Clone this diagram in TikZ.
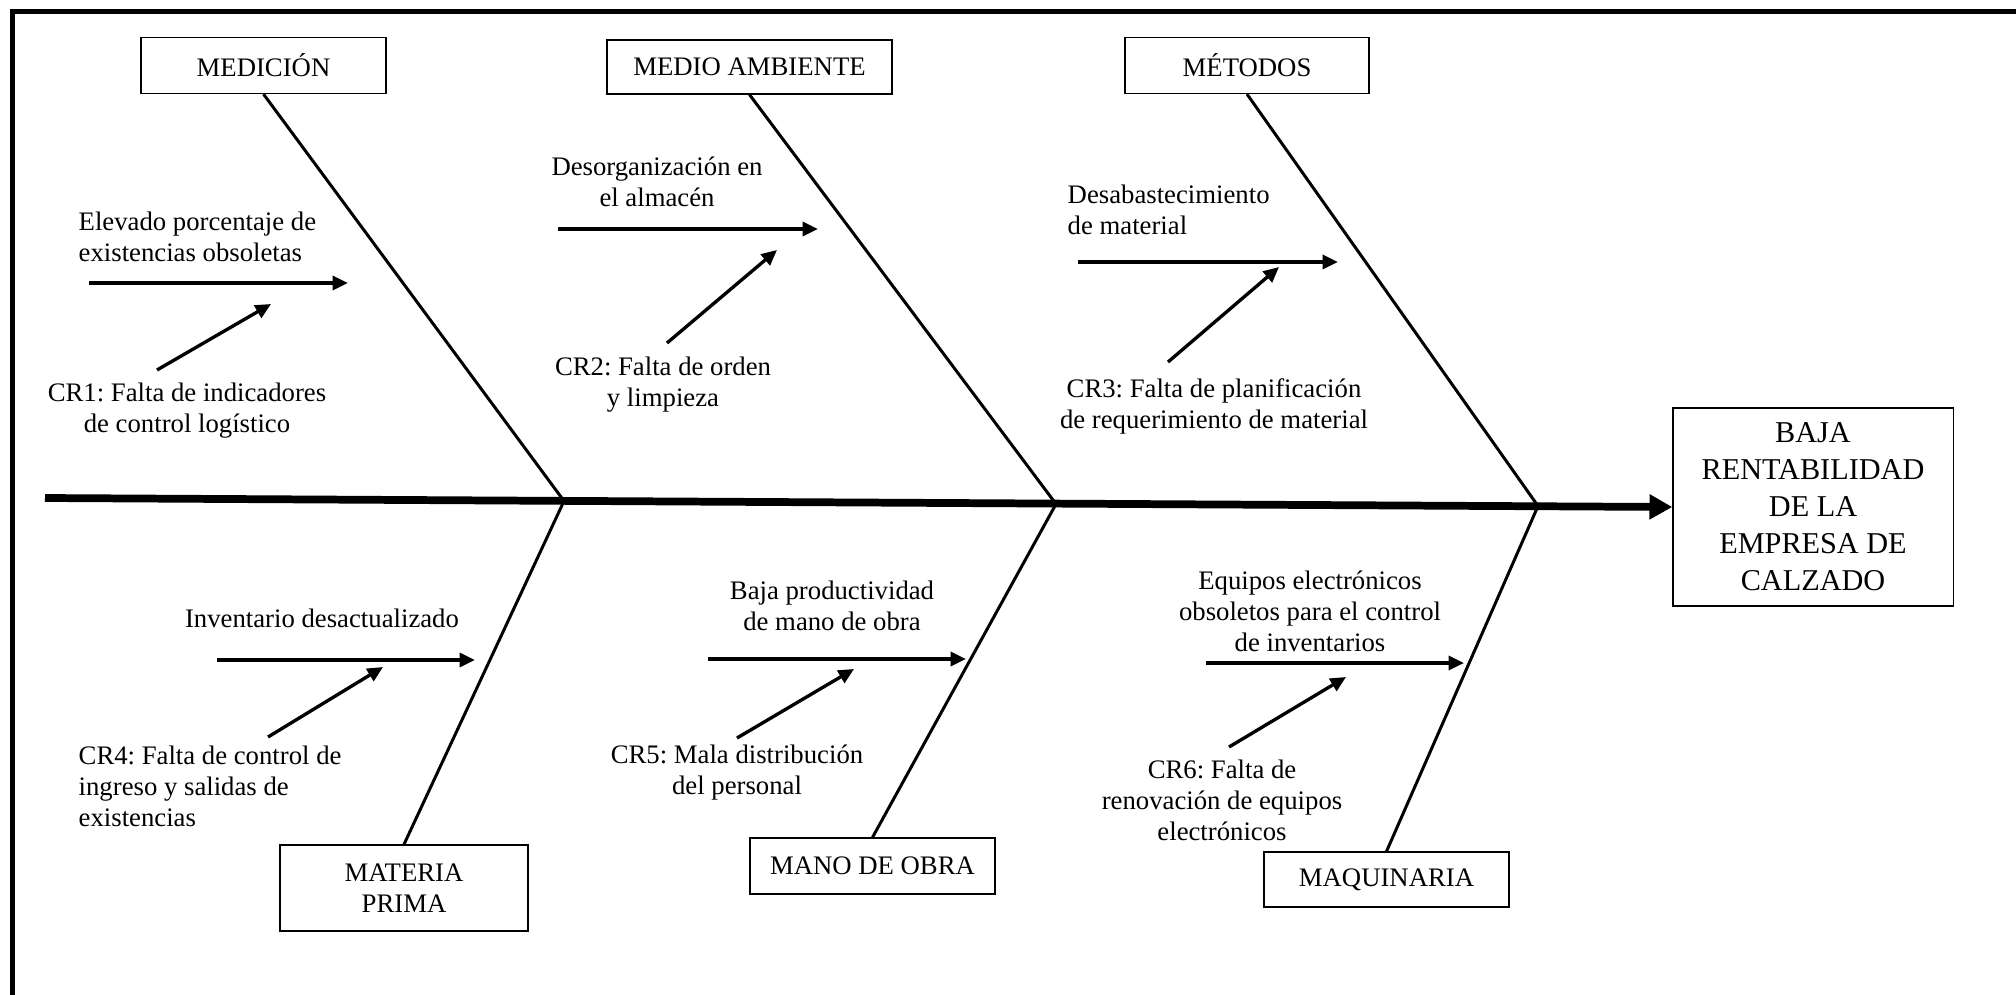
\documentclass[tikz,border=0pt]{standalone}
\usepackage{fontspec}
\setmainfont{Liberation Serif}
\usetikzlibrary{arrows.meta}
\frenchspacing

\begin{document}
\begin{tikzpicture}[x=0.01cm, y=-0.01cm, font=\fontsize{7.6}{8.8}\selectfont, % 1 unit = 1 px of the sheet
    caja/.style={draw, line width=0.35pt, inner sep=0pt, align=center, minimum width=2.45cm, minimum height=0.56cm},
    causa/.style={inner sep=0pt, align=center},
    flecha/.style={line width=0.95pt, -{Triangle[length=4.4pt, width=4pt]}},
    hueso/.style={line width=0.85pt}]
    \useasboundingbox (0,0) rectangle (2016,994);
    % Draw frame (cut at right and bottom)
    \draw[line width=1.42pt] (2040,11.5) -- (12.5,11.5) -- (12.5,1020);

    % Draw effect and spine
    \node[caja, minimum width=2.8cm, minimum height=1.98cm, font=\fontsize{8.6}{10.5}\selectfont] (efecto) at (1813,507) {BAJA\\RENTABILIDAD\\DE LA\\EMPRESA DE\\CALZADO};
    \coordinate (cola) at (45,498);
    \draw[line width=2.2pt, -{Triangle[length=6.5pt, width=6.8pt]}] (cola) -- (efecto.west);
    \coordinate (j1) at (564,501); % Joints on the spine
    \coordinate (j2) at (1056,504);
    \coordinate (j3) at (1538,506);

    % Draw category boxes
    \node[caja] (medicion) at (263.5,65.5) {MEDICIÓN};
    \node[caja, minimum width=2.85cm, minimum height=0.54cm] (ambiente) at (749.5,67) {MEDIO AMBIENTE};
    \node[caja, minimum width=2.44cm] (metodos) at (1247,65.5) {MÉTODOS};
    \node[caja, minimum width=2.48cm, minimum height=0.86cm] (materia) at (404,888) {MATERIA\\PRIMA};
    \node[caja] (manoobra) at (872.5,866) {MANO DE OBRA};
    \node[caja, minimum height=0.55cm] (maquinaria) at (1386.5,879.5) {MAQUINARIA};

    % Draw bones
    \draw[hueso] (medicion.south) -- (j1);
    \draw[hueso] (ambiente.south) -- (j2);
    \draw[hueso] (metodos.south) -- (j3);
    \draw[hueso] (materia.north) -- (j1);
    \draw[hueso] (manoobra.north) -- (j2);
    \draw[hueso] (maquinaria.north) -- (j3);

    % Medicion causes
    \node[causa, align=left, anchor=west] (elevado) at (78,237) {Elevado porcentaje de\\existencias obsoletas};
    \coordinate (a1i) at (89,283); \coordinate (a1f) at (348,283);
    \draw[flecha] (a1i) -- (a1f);
    \node[causa] (cr1) at (187,411) {CR1: Falta de indicadores\\de control logístico};
    \coordinate (c1i) at (157,370); \coordinate (c1f) at (271,304);
    \draw[flecha] (c1i) -- (c1f);

    % Medio ambiente causes
    \node[causa] (desorg) at (657,182) {Desorganización en\\el almacén};
    \coordinate (a2i) at (558,229); \coordinate (a2f) at (818,229);
    \draw[flecha] (a2i) -- (a2f);
    \node[causa] (cr2) at (663,385) {CR2: Falta de orden\\y limpieza};
    \coordinate (c2i) at (667,343); \coordinate (c2f) at (777,250);
    \draw[flecha] (c2i) -- (c2f);

    % Metodos causes
    \node[causa, align=left, anchor=west] (desabast) at (1067,210) {Desabastecimiento\\de material};
    \coordinate (a3i) at (1078,262); \coordinate (a3f) at (1338,262);
    \draw[flecha] (a3i) -- (a3f);
    \node[causa] (cr3) at (1214,406) {CR3: Falta de planificación\\de requerimiento de material};
    \coordinate (c3i) at (1168,362); \coordinate (c3f) at (1279,267);
    \draw[flecha] (c3i) -- (c3f);

    % Materia prima causes
    \node[causa] (inventario) at (322,618) {Inventario desactualizado};
    \coordinate (a4i) at (217,660); \coordinate (a4f) at (475,660);
    \draw[flecha] (a4i) -- (a4f);
    \node[causa, align=left, anchor=west] (cr4) at (78,786) {CR4: Falta de control de\\ingreso y salidas de\\existencias};
    \coordinate (c4i) at (268,737); \coordinate (c4f) at (383,667);
    \draw[flecha] (c4i) -- (c4f);

    % Mano de obra causes
    \node[causa] (bajaprod) at (832,606) {Baja productividad\\de mano de obra};
    \coordinate (a5i) at (708,659); \coordinate (a5f) at (966,659);
    \draw[flecha] (a5i) -- (a5f);
    \node[causa] (cr5) at (737,773) {CR5: Mala distribución\\del personal};
    \coordinate (c5i) at (737,738); \coordinate (c5f) at (854,669);
    \draw[flecha] (c5i) -- (c5f);

    % Maquinaria causes
    \node[causa] (equipos) at (1310,611) {Equipos electrónicos\\obsoletos para el control\\de inventarios};
    \coordinate (a6i) at (1206,663); \coordinate (a6f) at (1464,663);
    \draw[flecha] (a6i) -- (a6f);
    \node[causa] (cr6) at (1222,800) {CR6: Falta de\\renovación de equipos\\electrónicos};
    \coordinate (c6i) at (1229,747); \coordinate (c6f) at (1346,677);
    \draw[flecha] (c6i) -- (c6f);
\end{tikzpicture}
\end{document}
